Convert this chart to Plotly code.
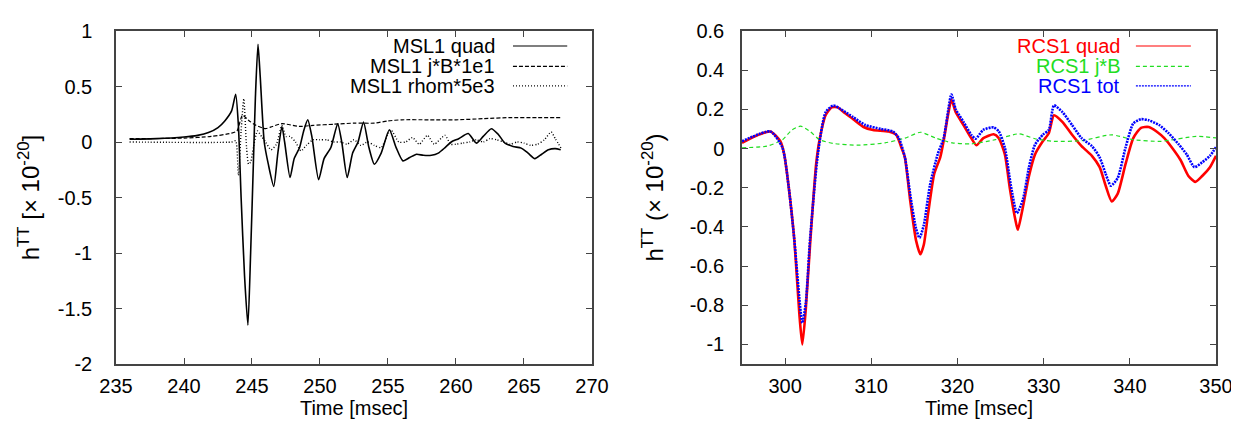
import plotly.graph_objects as go

# ---------------- Left panel data (MSL1) ----------------
msl_quad_t = [236.0, 238.0, 240.0, 241.0, 241.8, 242.5, 243.0, 243.5, 243.8, 244.0, 244.2, 244.45,
              244.7, 244.9, 245.1, 245.25, 245.44, 245.6, 245.9, 246.2, 246.6, 246.9, 247.2, 247.4,
              247.8, 248.1, 248.5, 248.8, 249.1, 249.4, 249.9, 250.3, 250.8, 251.3, 251.6, 252.0,
              252.4, 252.8, 253.2, 253.6, 254.0, 254.5, 255.1, 255.6, 256.1, 256.6, 257.1, 257.6,
              258.2, 258.7, 259.2, 259.65, 260.2, 260.9, 261.5, 262.0, 262.6, 263.1, 263.6, 264.2,
              264.8, 265.3, 265.8, 266.3, 266.8, 267.3, 267.7]
msl_quad_h = [0.025, 0.03, 0.045, 0.06, 0.085, 0.13, 0.19, 0.28, 0.43, 0.15, -0.5, -1.2,
              -1.65, -1.0, -0.2, 0.4, 0.88, 0.6, 0.0, -0.2, -0.40, -0.1, 0.14, 0.0,
              -0.32, -0.15, -0.05, 0.1, 0.2, 0.05, -0.34, -0.15, -0.05, 0.165, 0.0, -0.32,
              -0.1, 0.0, 0.18, -0.05, -0.2, -0.1, 0.11, -0.05, -0.17, -0.14, -0.11, -0.12,
              -0.12, -0.1, -0.05, 0.0, 0.03, 0.076, -0.01, 0.05, 0.12, 0.07, -0.01, -0.04,
              -0.055, -0.1, -0.15, -0.11, -0.07, -0.06, -0.07]

msl_jb_t = [236.0, 240.0, 242.0, 243.5, 243.9, 244.3, 244.8, 245.3, 246.0, 246.5, 247.2, 248.5,
            249.5, 251.0, 252.5, 254.0, 255.0, 256.0, 258.0, 260.0, 262.0, 264.0, 266.0, 267.8]
msl_jb_h = [0.03, 0.035, 0.05, 0.08, 0.1, 0.24, 0.19, 0.15, 0.12, 0.14, 0.165, 0.14,
            0.15, 0.16, 0.17, 0.17, 0.19, 0.2, 0.2, 0.2, 0.21, 0.22, 0.22, 0.22]

msl_rho_t = [236.0, 243.5, 243.8, 244.0, 244.2, 244.4, 244.6, 244.75, 244.9, 245.1, 245.4, 245.7,
             246.0, 246.4, 246.8, 247.2, 247.5, 247.8, 248.2, 248.6, 249.0, 249.5, 250.0, 250.5,
             251.0, 251.5, 252.0, 252.5, 253.0, 253.5, 254.0, 254.5, 255.2, 255.8, 256.3, 256.8,
             257.3, 257.9, 258.4, 259.2, 259.6, 260.0, 260.5, 261.0, 261.5, 262.0, 262.5, 263.0,
             263.5, 264.0, 264.5, 265.0, 265.5, 266.0, 266.5, 267.0, 267.3, 267.8]
msl_rho_h = [0.0, 0.0, 0.01, -0.3, 0.1, 0.39, -0.05, -0.2, -0.18, -0.05, 0.1, 0.05,
             0.0, -0.07, -0.02, 0.15, 0.05, 0.05, 0.0, -0.08, -0.03, 0.02, 0.02, 0.02,
             0.0, 0.0, -0.02, 0.02, -0.03, 0.0, -0.03, -0.05, 0.11, 0.0, 0.0, 0.04,
             -0.02, 0.06, -0.02, 0.06, -0.02, -0.02, -0.01, 0.0, 0.02, 0.0, 0.03, 0.02,
             0.0, -0.02, 0.0, -0.01, -0.03, -0.02, 0.02, 0.09, 0.03, -0.07]

# ---------------- Right panel data (RCS1) ----------------
rcs_quad_t = [295.0, 296.9, 298.3, 299.45, 299.9, 300.4, 301.05, 301.7, 302.0, 302.4, 302.9, 303.6,
              304.0, 304.7, 305.4, 306.1, 306.8, 307.9, 309.1, 310.2, 312.0, 312.9, 313.5, 313.9,
              314.5, 315.2, 315.7, 316.1, 316.6, 317.3, 318.0, 318.4, 318.9, 319.3, 319.8, 320.7,
              321.6, 322.2, 323.0, 324.2, 324.8, 325.5, 326.1, 326.7, 327.0, 327.5, 328.3, 329.0,
              329.9, 330.6, 331.2, 332.2, 333.3, 334.4, 335.6, 336.5, 337.2, 337.9, 338.6, 339.5,
              340.4, 341.3, 342.2, 343.1, 344.0, 344.9, 345.9, 346.8, 347.6, 348.4, 349.3, 350.0]
rcs_quad_h = [0.029, 0.07, 0.087, 0.037, -0.03, -0.19, -0.457, -0.87, -1.0, -0.82, -0.49, -0.08,
              0.045, 0.17, 0.21, 0.21, 0.185, 0.15, 0.11, 0.095, 0.087, 0.07, 0.004, -0.045,
              -0.26, -0.47, -0.54, -0.49, -0.33, -0.13, -0.045, 0.04, 0.17, 0.25, 0.185, 0.12,
              0.053, 0.017, 0.053, 0.073, 0.053, -0.03, -0.21, -0.36, -0.415, -0.32, -0.14, -0.03,
              0.037, 0.078, 0.17, 0.135, 0.07, 0.012, -0.037, -0.095, -0.19, -0.27, -0.23, -0.08,
              0.053, 0.106, 0.11, 0.087, 0.053, 0.004, -0.06, -0.14, -0.17, -0.14, -0.095, -0.037]

rcs_jb_t = [295.0, 297.9, 299.7, 300.8, 301.8, 302.9, 304.0, 305.6, 308.4, 311.6, 313.9, 315.7,
            317.5, 319.4, 321.6, 324.4, 327.1, 329.0, 331.2, 334.4, 337.9, 340.4, 343.6, 347.7, 350.0]
rcs_jb_h = [0.004, 0.012, 0.045, 0.095, 0.114, 0.087, 0.045, 0.026, 0.017, 0.029, 0.053, 0.083,
            0.053, 0.029, 0.024, 0.045, 0.075, 0.05, 0.037, 0.04, 0.07, 0.045, 0.037, 0.062, 0.054]

rcs_tot_t = [295.0, 298.3, 299.7, 300.4, 301.05, 302.0, 302.4, 302.9, 303.8, 304.7, 305.6, 306.5,
             307.9, 309.3, 311.1, 312.5, 313.2, 313.9, 314.5, 315.2, 315.6, 316.1, 316.8, 317.7,
             318.4, 319.3, 319.8, 320.7, 321.6, 322.1, 323.0, 324.2, 324.8, 325.5, 326.2, 326.9,
             327.6, 328.3, 329.0, 329.9, 330.6, 331.2, 332.2, 333.3, 334.4, 335.6, 336.5, 337.2,
             337.8, 338.6, 339.5, 340.4, 341.3, 342.2, 343.4, 344.5, 345.7, 346.6, 347.5, 348.4,
             349.3, 350.0]
rcs_tot_h = [0.037, 0.087, 0.004, -0.19, -0.457, -0.89, -0.79, -0.46, -0.03, 0.185, 0.22, 0.2,
             0.16, 0.12, 0.10, 0.087, 0.053, -0.045, -0.23, -0.41, -0.456, -0.39, -0.19, -0.03,
             0.053, 0.276, 0.2, 0.136, 0.07, 0.05, 0.095, 0.108, 0.087, 0.004, -0.19, -0.33,
             -0.26, -0.095, 0.02, 0.07, 0.095, 0.22, 0.185, 0.12, 0.053, 0.012, -0.045, -0.13,
             -0.19, -0.15, 0.004, 0.128, 0.15, 0.144, 0.12, 0.078, 0.02, -0.03, -0.095, -0.07,
             -0.037, 0.007]

# ---------------- Axis ticks / labels ----------------
left_xticks = [235, 240, 245, 250, 255, 260, 265, 270]
left_yticks = [1, 0.5, 0, -0.5, -1, -1.5, -2]
left_ytext = ["1", "0.5", "0", "-0.5", "-1", "-1.5", "-2"]
right_xticks = [300, 310, 320, 330, 340, 350]
right_yticks = [0.6, 0.4, 0.2, 0, -0.2, -0.4, -0.6, -0.8, -1]
right_ytext = ["0.6", "0.4", "0.2", "0", "-0.2", "-0.4", "-0.6", "-0.8", "-1"]

left_names = ["MSL1 quad", "MSL1 j*B*1e1", "MSL1 rhom*5e3"]
right_names = ["RCS1 quad", "RCS1 j*B", "RCS1 tot"]

FONT = "Liberation Sans, Arial, Helvetica, sans-serif"
FS = 20
RED, GREEN, BLUE = "#ff0000", "#22dd22", "#0000ff"

fig = go.Figure()

# Left panel traces
left_styles = [("black", "solid", 1.6), ("black", "4px,2px", 1.2), ("black", "1px,2px", 1.4)]
left_data = [(msl_quad_t, msl_quad_h), (msl_jb_t, msl_jb_h), (msl_rho_t, msl_rho_h)]
for (t, h), (c, d, w), n in zip(left_data, left_styles, left_names):
    fig.add_trace(go.Scatter(x=t, y=h, mode="lines", name=n, showlegend=False,
                             line=dict(color=c, dash=d, width=w, shape="spline", smoothing=0.6),
                             xaxis="x", yaxis="y"))

# Right panel traces
right_styles = [(RED, "solid", 2.6), (GREEN, "4px,3px", 1.2), (BLUE, "2px,1px", 2.6)]
right_data = [(rcs_quad_t, rcs_quad_h), (rcs_jb_t, rcs_jb_h), (rcs_tot_t, rcs_tot_h)]
for (t, h), (c, d, w), n in zip(right_data, right_styles, right_names):
    fig.add_trace(go.Scatter(x=t, y=h, mode="lines", name=n, showlegend=False,
                             line=dict(color=c, dash=d, width=w, shape="spline", smoothing=0.6),
                             xaxis="x2", yaxis="y2"))

# Legends (gnuplot style: right-aligned text with sample line on the right)
rows_y = [0.955, 0.894, 0.835]
for i, n in enumerate(left_names):
    fig.add_annotation(xref="x domain", yref="y domain", x=0.798, y=rows_y[i], text=n,
                       showarrow=False, xanchor="right", yanchor="middle", borderpad=0,
                       font=dict(family=FONT, size=FS, color="black"))
    c, d, w = left_styles[i]
    fig.add_shape(type="line", xref="x domain", yref="y domain", x0=0.834, x1=0.948,
                  y0=rows_y[i], y1=rows_y[i], line=dict(color=c, dash=d, width=1.2))
for i, n in enumerate(right_names):
    c, d, w = right_styles[i]
    fig.add_annotation(xref="x2 domain", yref="y2 domain", x=0.799, y=rows_y[i], text=n,
                       showarrow=False, xanchor="right", yanchor="middle", borderpad=0,
                       font=dict(family=FONT, size=FS, color=c))
    fig.add_shape(type="line", xref="x2 domain", yref="y2 domain", x0=0.831, x1=0.947,
                  y0=rows_y[i], y1=rows_y[i], line=dict(color=c, dash=d, width=1.2))

axis_common = dict(showline=True, linecolor="#444444", linewidth=1.5, mirror="ticks",
                   ticks="inside", ticklen=6, tickcolor="#444444", tickwidth=1.2,
                   showgrid=False, zeroline=False,
                   tickfont=dict(family=FONT, size=FS, color="black"))

fig.update_layout(
    width=1239, height=423,
    margin=dict(l=108, r=31, t=13, b=67),
    paper_bgcolor="white", plot_bgcolor="white",
    font=dict(family=FONT, size=FS, color="black"),
    xaxis=dict(domain=[0, 0.4327], range=[235, 270], tickvals=left_xticks,
               ticklabelstandoff=3,
               title=dict(text="Time [msec]", font=dict(family=FONT, size=FS), standoff=4),
               anchor="y", **axis_common),
    yaxis=dict(domain=[0, 1], range=[-2, 1], tickvals=left_yticks, ticktext=left_ytext,
               ticklabelstandoff=18,
               title=dict(text="h<sup>TT</sup> [\u00d7 10<sup>-20</sup>]",
                          font=dict(family=FONT, size=24), standoff=11),
               anchor="x", **axis_common),
    xaxis2=dict(domain=[0.5691, 1.0], range=[295, 350], tickvals=right_xticks,
                ticklabelstandoff=3,
                title=dict(text="Time [msec]", font=dict(family=FONT, size=FS), standoff=4),
                anchor="y2", **axis_common),
    yaxis2=dict(domain=[0, 1], range=[-1.1, 0.6], tickvals=right_yticks, ticktext=right_ytext,
                ticklabelstandoff=12,
                title=dict(text="h<sup>TT</sup> (\u00d7 10<sup>-20</sup>)",
                           font=dict(family=FONT, size=24), standoff=19),
                anchor="x2", **axis_common),
)

fig.write_html("out.html")
